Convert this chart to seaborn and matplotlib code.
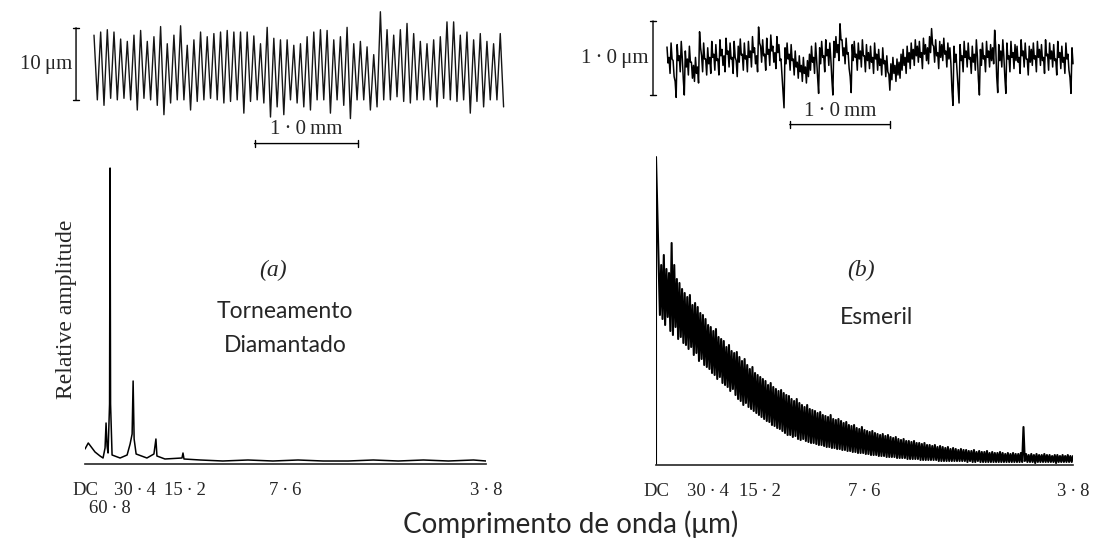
import numpy as np
import pandas as pd
import matplotlib.pyplot as plt
import seaborn as sns

# --- profile (a): diamond turned surface, peak / valley height of each feed mark (um)
turned_peaks = [3.7, 4.1, 4.4, 4.1, 3.2, 2.9, 3.7, 4.3, 2.9, 3.5,
                4.8, 2.6, 3.7, 4.9, 2.4, 3.1, 4.1, 3.5, 3.9, 4.1,
                4.3, 4.1, 4.1, 4.1, 3.6, 2.6, 4.7, 3.3, 3.1, 3.1,
                2.4, 2.6, 3.5, 4.1, 4.4, 4.3, 3.1, 3.5, 4.7, 2.6,
                2.9, 2.2, 1.2, 6.7, 4.4, 3.7, 4.4, 5.2, 3.9, 2.9,
                2.6, 3.1, 3.5, 5.4, 5.4, 3.7, 4.1, 3.1, 3.9, 2.9,
                2.6, 3.9]
turned_valleys = [-4.6, -5.3, -4.4, -4.6, -4.4, -4.6, -5.9, -4.4, -4.6, -5.3,
                  -6.5, -5.0, -4.6, -4.6, -5.9, -4.8, -4.6, -4.4, -4.6, -5.0,
                  -4.8, -4.6, -6.3, -4.8, -4.6, -5.0, -6.8, -5.5, -6.5, -4.6,
                  -5.0, -5.5, -5.9, -4.6, -4.6, -6.3, -4.6, -5.3, -7.0, -4.6,
                  -4.6, -5.9, -5.5, -4.6, -4.6, -4.2, -4.8, -5.0, -4.6, -4.6,
                  -4.6, -5.5, -4.4, -4.6, -4.8, -4.6, -6.3, -4.8, -5.5, -4.6,
                  -4.6, -5.5]
feed_mm = 0.0608

# --- profile (b): emery finished surface, mean line in 1/100 um + trace half width
emery_profile = [5, -8, 10, -12, -38, 8, -6, 12, -35, 0, -10, 6, -14, -18, -8, -20, 24, -6, 10, -10,
                 4, -8, 12, -4, 8, -10, 14, 2, -6, 16, 0, 10, -8, 12, -12, 6, 15, -4, 10, -6,
                 12, 0, 18, 4, -6, 30, 6, 14, -4, 16, 2, 20, 6, -2, 18, 8, -10, -51, 4, 10,
                 -4, 8, -10, 0, -14, -6, -18, -8, -20, -12, -4, 6, -8, 10, -33, 4, 12, -6, 14, 2,
                 10, -35, 12, 18, 8, 34, 14, 4, 16, -2, -32, 8, 12, -4, 10, 0, 14, -6, 8, -2,
                 6, -8, 10, -4, 2, -10, 4, -12, -6, -29, -16, -8, -18, -10, -14, -4, 2, -8, 6, -2,
                 10, 2, 14, 6, 12, -2, 16, 8, 4, 18, 28, 6, 14, -2, 12, 8, 16, 0, 10, 4,
                 -48, 6, -4, -45, 8, -6, 12, 0, 10, -8, 6, -4, 14, -35, 2, 10, -6, 12, 0, 8,
                 4, 26, -32, 8, 0, 14, -33, 10, -6, 12, -2, 8, 6, -8, 14, 0, 10, -10, 6, 2,
                 10, -6, 12, 2, 8, -8, 14, -4, 10, 0, 8, -10, 12, -2, 6, -8, 10, -4, -33, 4]
emery_step_mm = 0.0192
emery_band_um = 0.1

# --- spectra, x = spatial frequency in multiples of 1/60.8 um
wave_ticks = [0, 2, 4, 8, 16]
wave_labels = ['DC', '30\u2009·\u20094', '15\u2009·\u20092', '7\u2009·\u20096', '3\u2009·\u20098']
fund_label = '60\u2009·\u20098'

turned_freq = [0, 0.13, 0.4, 0.6, 0.72, 0.8, 0.84, 0.88, 0.92, 0.98, 1.0, 1.02, 1.08,
               1.4, 1.68, 1.8, 1.88, 1.92, 1.96, 2.04, 2.47, 2.75, 2.83, 2.87, 3.19,
               3.87, 3.91, 3.95, 4.6, 5.5, 6.5, 7.5, 8.5, 9.5, 10.5, 11.5, 12.5, 13.5,
               14.5, 15.5, 16]
turned_amp = [15, 21, 12, 8, 6, 16, 41, 18, 11, 60, 296, 60, 9,
              6, 9, 20, 30, 83, 25, 10, 6, 10, 25, 8, 5,
              6, 11, 5, 4, 3, 4, 3, 4, 3, 3, 4, 3, 4,
              3, 4, 3]

emery_dc = 308
# upper / lower edge of the emery spectrum trace at f = 0.1, 0.2, ... 16.0
emery_upper = [205, 200, 210, 196, 192, 222, 200, 186, 182, 176,
               172, 168, 170, 160, 162, 158, 152, 150, 146, 140,
               138, 134, 136, 128, 126, 124, 118, 120, 114, 112,
               113, 108, 104, 106, 100, 96, 98, 92, 90, 88,
               86, 84, 80, 82, 78, 76, 74, 75, 72, 70,
               69, 66, 64, 66, 62, 60, 58, 60, 56, 55,
               54, 52, 53, 50, 49, 48, 50, 46, 45, 46,
               44, 42, 43, 40, 39, 40, 37, 36, 38, 35,
               34, 33, 34, 32, 31, 30, 31, 29, 30, 28,
               27, 28, 26, 25, 26, 24, 24, 23, 24, 22,
               22, 21, 22, 20, 20, 19, 20, 18, 19, 18,
               17, 18, 16, 17, 16, 15, 16, 15, 15, 14,
               14, 15, 13, 14, 13, 13, 14, 12, 13, 12,
               12, 13, 12, 11, 12, 11, 12, 11, 11, 12,
               38, 11, 10, 11, 10, 11, 10, 10, 11, 10,
               10, 9, 10, 10, 9, 10, 9, 10, 9, 9]
emery_lower = [150, 146, 140, 148, 134, 130, 138, 126, 128, 122,
               120, 116, 118, 110, 112, 104, 106, 100, 98, 96,
               92, 90, 86, 88, 82, 80, 78, 74, 76, 70,
               66, 64, 60, 62, 58, 56, 54, 52, 50, 48,
               46, 44, 43, 40, 39, 37, 36, 34, 32, 30,
               30, 28, 29, 26, 25, 26, 24, 23, 22, 22,
               21, 20, 20, 19, 18, 18, 17, 17, 16, 16,
               15, 15, 14, 14, 13, 13, 12, 12, 12, 11,
               11, 10, 10, 10, 9, 9, 9, 8, 8, 8,
               8, 7, 7, 7, 7, 6, 6, 6, 6, 6,
               5, 5, 5, 5, 5, 5, 5, 4, 4, 4,
               4, 4, 4, 4, 4, 4, 4, 4, 3, 4,
               3, 3, 4, 3, 3, 3, 3, 3, 3, 3,
               3, 3, 3, 3, 3, 3, 3, 3, 3, 3,
               4, 3, 3, 3, 2, 3, 3, 3, 3, 3,
               3, 3, 2, 3, 3, 3, 3, 3, 3, 3]

sns.set_style('white')
serif = ['Liberation Serif', 'DejaVu Serif']
sans = ['Lato', 'Open Sans', 'DejaVu Sans']
plt.rcParams['font.family'] = serif

W, H = 1094, 539
fig = plt.figure(figsize=(W / 100, H / 100), dpi=100)


def px_axes(x0, y0, x1, y1):
    # axes placed by pixel box (y from top)
    return fig.add_axes([x0 / W, 1 - y1 / H, (x1 - x0) / W, (y1 - y0) / H])


def px_text(x, y, s, **kw):
    fig.text(x / W, 1 - y / H, s, ha='center', va='center', **kw)


# ---------- top-left profile
n = len(turned_peaks)
prof_a = pd.DataFrame({
    'x': np.ravel(np.column_stack([np.arange(n) * feed_mm, (np.arange(n) + 0.5) * feed_mm])),
    'z': np.ravel(np.column_stack([turned_peaks, turned_valleys])),
})
ax = px_axes(0, 0, 520, 160)
sns.lineplot(data=prof_a, x='x', y='z', ax=ax, color='#151515', lw=1.0,
             sort=False, estimator=None)
sx, sy = 6.66 / feed_mm, 7.8
ax.set_xlim(-94 / sx, (520 - 94) / sx)
ax.set_ylim(-(160 - 64) / sy, 64 / sy)
ax.set_axis_off()
ax.annotate('', xy=(-0.164, 5), xytext=(-0.164, -5),
            arrowprops=dict(arrowstyle='|-|, widthA=0.2, widthB=0.2', lw=1, color='k'))
ax.text(-0.2, 0, '10\u2009μm', ha='right', va='center', fontsize=15, family=serif)
ax.annotate('', xy=(1.44, -10.2), xytext=(2.44, -10.2),
            arrowprops=dict(arrowstyle='|-|, widthA=0.25, widthB=0.25', lw=1, color='k'))
ax.text(1.94, -8.4, '1\u2009·\u20090\u2009mm', ha='center', va='center', fontsize=15,
        family=serif)

# ---------- top-right profile
m = len(emery_profile)
z_b = np.array(emery_profile) / 100
prof_b = pd.DataFrame({
    'x': np.ravel(np.column_stack([np.arange(m), np.arange(m) + 0.5])) * emery_step_mm,
    'z': np.ravel(np.column_stack([z_b + emery_band_um, z_b - emery_band_um])),
})
ax = px_axes(560, 0, 1094, 160)
sns.lineplot(data=prof_b, x='x', y='z', ax=ax, color='k', lw=1.1,
             sort=False, estimator=None)
sx, sy = 106, 80
ax.set_xlim((560 - 667) / sx, (1094 - 667) / sx)
ax.set_ylim(-(160 - 59) / sy, 59 / sy)
ax.set_axis_off()
ax.annotate('', xy=(-0.132, 0.51), xytext=(-0.132, -0.49),
            arrowprops=dict(arrowstyle='|-|, widthA=0.2, widthB=0.2', lw=1, color='k'))
ax.text(-0.17, 0, '1\u2009·\u20090\u2009μm', ha='right', va='center', fontsize=15,
        family=serif)
ax.annotate('', xy=(1.132, -0.82), xytext=(2.132, -0.82),
            arrowprops=dict(arrowstyle='|-|, widthA=0.25, widthB=0.25', lw=1, color='k'))
ax.text(1.632, -0.66, '1\u2009·\u20090\u2009mm', ha='center', va='center', fontsize=15,
        family=serif)


def spectrum_axis(ax, top):
    ax.set_xlim(0, 16)
    ax.set_ylim(0, top)
    sns.despine(ax=ax, left=True)
    ax.spines['bottom'].set_linewidth(1.2)
    ax.set_yticks([])
    ax.set_xticks(wave_ticks, wave_labels, family=serif)
    ax.tick_params(axis='x', which='major', direction='out', length=5, width=1,
                   pad=8, labelsize=13.5)
    ax.set_xlabel('')
    ax.set_ylabel('')
    ax.patch.set_alpha(0)


# ---------- spectrum (a)
ax = px_axes(85, 154, 486, 464)
sns.lineplot(x=turned_freq, y=turned_amp, ax=ax, color='k', lw=1.1,
             sort=False, estimator=None)
spectrum_axis(ax, 310)
ax.set_xticks([1], [fund_label], minor=True, family=serif)
ax.tick_params(axis='x', which='minor', direction='out', length=24, width=1.3,
               pad=2, labelsize=13.5)
ax.set_ylabel('Relative amplitude', fontsize=17, labelpad=6, family=serif)

# ---------- spectrum (b)
k = len(emery_upper)
f_b = np.round(np.arange(1, k + 1) * 0.1, 2)
freq_b = np.concatenate([[0, 0], np.ravel(np.column_stack([f_b, f_b + 0.05]))])
amp_b = np.concatenate([[0, emery_dc], np.ravel(np.column_stack([emery_upper, emery_lower]))])
ax = px_axes(656, 154, 1073, 465)
sns.lineplot(x=freq_b, y=amp_b, ax=ax, color='k', lw=1.5,
             sort=False, estimator=None)
spectrum_axis(ax, 311)

# ---------- labels
px_text(273, 270, '(a)', fontsize=17, style='italic', family=serif)
px_text(861, 270, '(b)', fontsize=17, style='italic', family=serif)
px_text(285, 311, 'Torneamento', fontsize=16.5, family=sans)
px_text(285, 346, 'Diamantado', fontsize=16.5, family=sans)
px_text(876, 318, 'Esmeril', fontsize=16.5, family=sans)
px_text(571, 524, 'Comprimento de onda (μm)', fontsize=20, family=sans)

fig.savefig('out.png', dpi=100)
